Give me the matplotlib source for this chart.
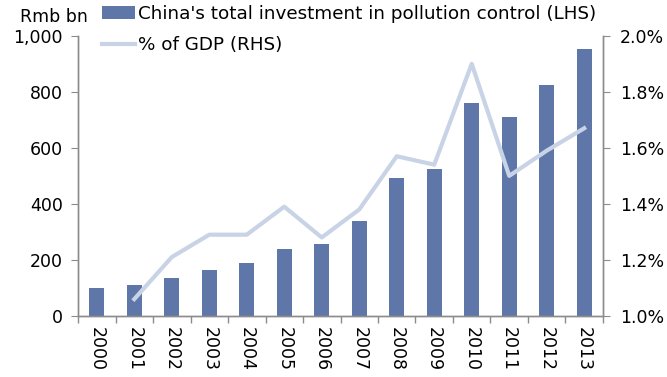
import numpy as np
import matplotlib.pyplot as plt
from matplotlib.ticker import FuncFormatter

plt.rcParams['font.family'] = ['DejaVu Sans']
plt.rcParams['font.size'] = 12.5

# 中国污染治理投资 (十亿元) 和占GDP比例
years = [str(y) for y in range(2000, 2014)]
investment = [100, 110, 136, 164, 190, 240, 257, 339, 493, 525, 761, 711, 825, 953]
gdp_share = [1.06, 1.21, 1.29, 1.29, 1.39, 1.28, 1.38, 1.57, 1.54, 1.90, 1.50, 1.59, 1.67]

bar_color = '#5e76a8'
line_color = '#c9d3e6'
axis_color = '#8c8c8c'

fig = plt.figure(figsize=(6.67, 3.77), dpi=100)
ax = fig.add_axes([0.117, 0.162, 0.787, 0.743])
ax2 = ax.twinx()

x = np.arange(len(years))
bars = ax.bar(x, investment, width=0.4, color=bar_color,
              label="China's total investment in pollution control (LHS)", zorder=2)
# 2001年开始才有比例数据
line, = ax2.plot(x[1:], gdp_share, color=line_color, lw=3,
                 label='% of GDP (RHS)', zorder=3)

ax.set_xlim(-0.5, len(years) - 0.5)
ax.set_ylim(0, 1000)
ax.set_yticks(range(0, 1001, 200))
ax.yaxis.set_major_formatter(FuncFormatter(lambda v, p: f'{int(v):,}'))
ax2.set_ylim(1.0, 2.0)
ax2.set_yticks(np.arange(1.0, 2.01, 0.2))
ax2.yaxis.set_major_formatter(FuncFormatter(lambda v, p: f'{v:.1f}%'))

ax.set_xticks(x)
ax.set_xticklabels(years, rotation=-90)
ax.set_xticks(np.arange(-0.5, len(years), 1), minor=True)
ax.tick_params(axis='x', which='major', length=0, pad=8)
ax.tick_params(axis='x', which='minor', length=5, color=axis_color, width=1)
ax.tick_params(axis='y', length=5, color=axis_color, pad=6)
ax2.tick_params(axis='y', length=5, color=axis_color, pad=7)

for a in (ax, ax2):
    a.spines['top'].set_visible(False)
    for s in ('left', 'right', 'bottom'):
        a.spines[s].set_color(axis_color)
        a.spines[s].set_linewidth(1)

ax2.patch.set_visible(False)

fig.text(20 / 667, 1 - 17 / 377, 'Rmb bn', va='center', ha='left')

fig.legend(handles=[bars, line], loc='upper left',
           bbox_to_anchor=(98 / 667, 1 - 1 / 377), fontsize=13.2,
           frameon=False, handlelength=1.8, handletextpad=0.2,
           labelspacing=0.75, borderaxespad=0, borderpad=0.2)

fig.savefig('out.png', dpi=100)
